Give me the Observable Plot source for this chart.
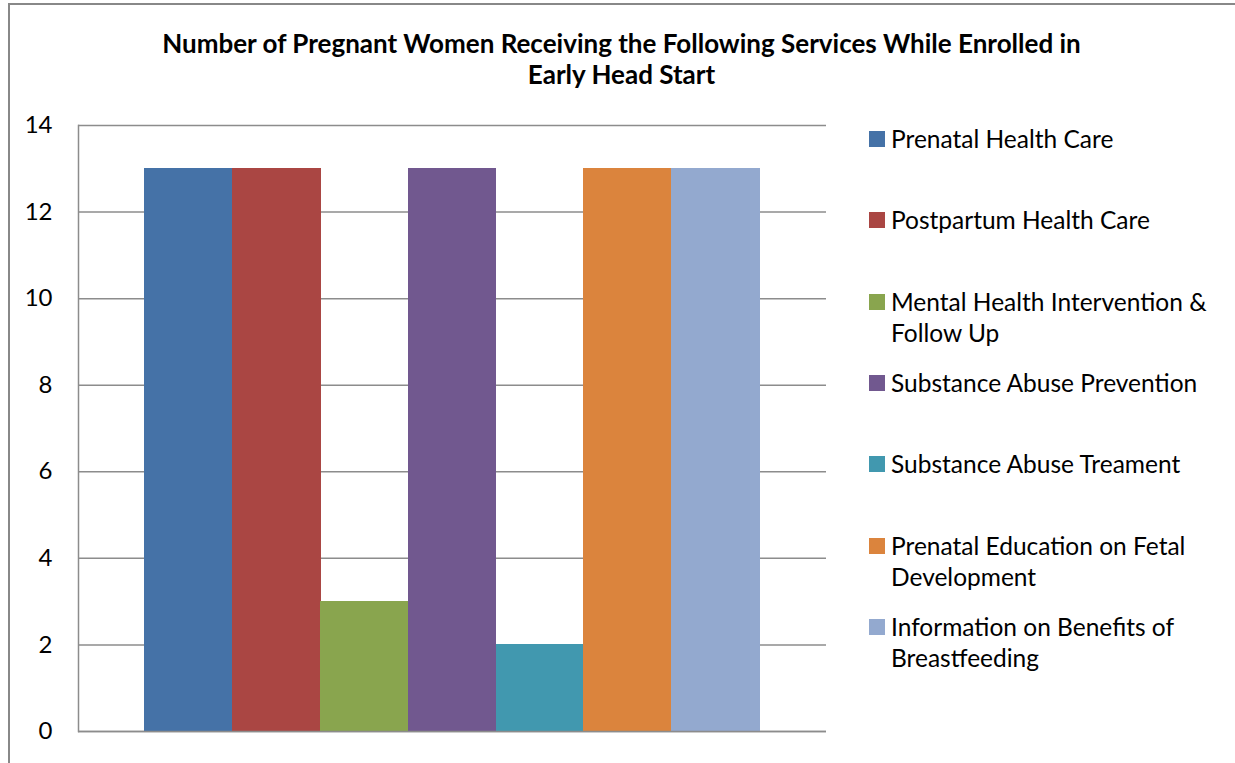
<!DOCTYPE html>
<html>
<head>
<meta charset="utf-8">
<script src="https://cdn.jsdelivr.net/npm/d3@7"></script>
<script src="https://cdn.jsdelivr.net/npm/@observablehq/plot@0.6"></script>
<style>
  html, body { margin: 0; padding: 0; background: #fff; }
  body { width: 1235px; height: 763px; position: relative; overflow: hidden; font-family: Lato, "Open Sans", sans-serif; color: #000; }
  #border { position: absolute; left: 8px; top: 3px; width: 1300px; height: 900px; border-left: 2px solid #888; border-top: 2px solid #888; }
  #title { position: absolute; left: 0; top: 28px; width: 1243px; text-align: center; font-weight: bold; font-size: 26px; line-height: 31px; }
  #chart { position: absolute; left: 0; top: 0; }
  .leg { position: absolute; left: 869px; display: flex; align-items: flex-start; font-size: 24.5px; line-height: 31px; white-space: pre-line; }
  .leg .sw { width: 16px; height: 16px; margin-top: 8px; margin-right: 6px; flex: none; }
</style>
</head>
<body>
<div id="border"></div>
<div id="chart"></div>
<div id="title">Number of Pregnant Women Receiving the Following Services While Enrolled in<br>Early Head Start</div>
<div id="legend"></div>
<script>
const services = [
  "Prenatal Health Care",
  "Postpartum Health Care",
  "Mental Health Intervention & Follow Up",
  "Substance Abuse Prevention",
  "Substance Abuse Treament",
  "Prenatal Education on Fetal Development",
  "Information on Benefits of Breastfeeding"
];
const legendLabels = [
  "Prenatal Health Care",
  "Postpartum Health Care",
  "Mental Health Intervention &\nFollow Up",
  "Substance Abuse Prevention",
  "Substance Abuse Treament",
  "Prenatal Education on Fetal\nDevelopment",
  "Information on Benefits of\nBreastfeeding"
];
const counts = [13, 13, 3, 13, 2, 13, 13];
const colors = ["#4572A7", "#AA4643", "#89A54E", "#71588F", "#4198AF", "#DB843D", "#93A9CF"];
const yTicks = [0, 2, 4, 6, 8, 10, 12, 14];

const data = services.map((s, i) => ({service: s, value: counts[i]}));

const chart = Plot.plot({
  width: 1235,
  height: 763,
  marginLeft: 78,
  marginRight: 409,
  marginTop: 125,
  marginBottom: 32,
  style: {fontFamily: "Lato, 'Open Sans', sans-serif", fontSize: "24px", color: "#000", background: "transparent"},
  x: {domain: services, paddingInner: 0, paddingOuter: 0.757, round: false, axis: null},
  y: {domain: [0, 14], ticks: yTicks},
  color: {domain: services, range: colors},
  marks: [
    Plot.gridY(yTicks, {stroke: "#8c8c8c", strokeOpacity: 1, strokeWidth: 1.5}),
    Plot.axisY(yTicks, {tickSize: 0, tickPadding: 26, label: null, fontSize: 24}),
    Plot.barY(data, {x: "service", y: "value", fill: "service", insetLeft: -0.4, insetRight: -0.4, shapeRendering: "crispEdges"}),
    Plot.frame({anchor: "left", stroke: "#8c8c8c", strokeWidth: 1.5}),
    Plot.ruleY([0], {stroke: "#8c8c8c", strokeWidth: 1.5})
  ]
});
document.getElementById("chart").appendChild(chart);

const legend = document.getElementById("legend");
legendLabels.forEach((lab, i) => {
  const d = document.createElement("div");
  d.className = "leg";
  d.style.top = (139 + i * 81.3 - 16) + "px";
  const sw = document.createElement("div");
  sw.className = "sw";
  sw.style.background = colors[i];
  const t = document.createElement("div");
  t.textContent = lab;
  d.appendChild(sw);
  d.appendChild(t);
  legend.appendChild(d);
});
</script>
</body>
</html>
